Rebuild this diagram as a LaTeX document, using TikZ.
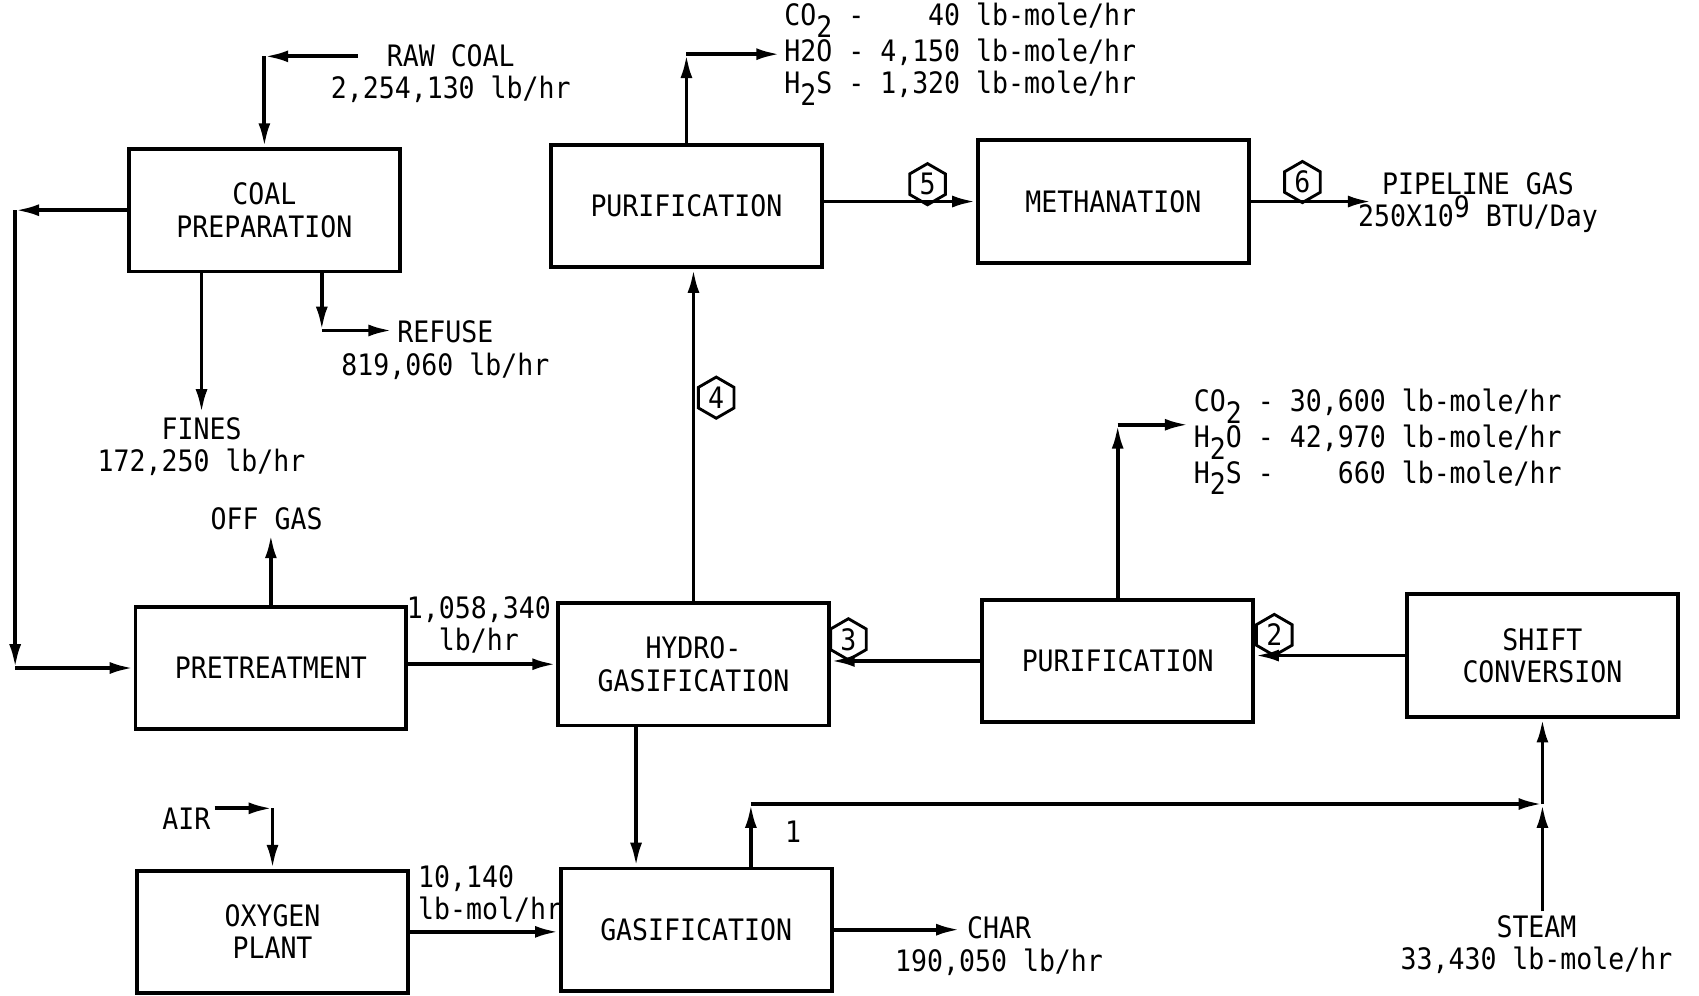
\documentclass[tikz,border=0pt]{standalone}
\usepackage{fontspec}
\setmainfont{DejaVu Sans Mono}[FakeStretch=0.9]
\usetikzlibrary{shapes.geometric, arrows.meta, positioning}
\newcommand{\lowsub}[1]{\raisebox{-0.7ex}{#1}}
\newcommand{\highsup}[1]{\raisebox{0.6ex}{#1}}

\begin{document}
\begin{tikzpicture}[x=0.02cm, y=-0.02cm, font=\fontsize{15.5}{17}\selectfont]
\tikzstyle{block} = [rectangle, minimum width=5cm, minimum height=2.26cm, text centered, align=center, draw=black, line width=2pt, inner sep=0pt]
\tikzstyle{stream} = [align=center, inner sep=2pt]
\tikzstyle{hexnum} = [regular polygon, regular polygon sides=6, shape border rotate=90, draw=black, line width=1.5pt, minimum size=0.76cm, inner sep=0pt]
\tikzstyle{arrow} = [line width=2pt, -{Latex[length=4.4mm,width=2.2mm]}]

\useasboundingbox (0,0) rectangle (1568,919);

% process blocks
\node (coalprep) [block] at (244,194) {COAL\\PREPARATION};
\node (pretreat) [block] at (250,616.5) {PRETREATMENT};
\node (hydrogas) [block] at (640,613) {HYDRO-\\GASIFICATION};
\node (purifA) [block] at (633.5,190) {PURIFICATION};
\node (methan) [block] at (1027.5,186) {METHANATION};
\node (purifB) [block] at (1031.5,610) {PURIFICATION};
\node (shift) [block] at (1423.5,605) {SHIFT\\CONVERSION};
\node (gasif) [block] at (642.5,858) {GASIFICATION};
\node (oxygen) [block] at (251.5,860) {OXYGEN\\PLANT};

% stream labels
\node (rawcoal) [stream] at (416,68) {RAW COAL\\2,254,130 lb/hr};
\node (fines) [stream] at (186,412) {FINES\\172,250 lb/hr};
\node (refuse) [stream] at (411,323) {REFUSE\\819,060 lb/hr};
\node (offgas) [stream] at (246,479) {OFF GAS};
\node (ptflow) [stream] at (442,577) {1,058,340\\lb/hr};
\node (gasA) [stream, align=left, anchor=west] at (720,50) {CO\lowsub{2} - \phantom{4,1}40 lb-mole/hr\\H2O - 4,150 lb-mole/hr\\H\lowsub{2}S - 1,320 lb-mole/hr};
\node (pipeline) [stream] at (1364,187) {PIPELINE GAS\\250X10\highsup{9} BTU/Day};
\node (gasB) [stream, align=left, anchor=west] at (1098,408) {CO\lowsub{2} - 30,600 lb-mole/hr\\H\lowsub{2}O - 42,970 lb-mole/hr\\H\lowsub{2}S - \phantom{30,}660 lb-mole/hr};
\node (char) [stream] at (922,873) {CHAR\\190,050 lb/hr};
\node (steam) [stream] at (1418,872) {STEAM\\33,430 lb-mole/hr};
\node (air) [stream] at (172,756) {AIR};
\node (oxflow) [stream, align=left, anchor=west] at (382,825) {10,140\\lb-mol/hr};
\node (one) [stream] at (732,768) {1};

% stream numbers
\node (hexB) [hexnum] at (783,590) {3};
\node (hexA) [hexnum] at (1176,586) {2};
\node (hexC) [hexnum] at (661,367) {4};
\node (hexD) [hexnum] at (856,170) {5};
\node (hexE) [hexnum] at (1202,168) {6};

% coal feed
\coordinate (rawin) at (330,52);
\coordinate (rawturn) at (244,52);
\draw [arrow] (rawin) -- (rawturn);
\draw [arrow] (rawturn) -- (coalprep.north);

\coordinate (loopTop) at (coalprep.west -| 14,0);
\coordinate (loopBot) at (pretreat.west -| 14,0);
\draw [arrow] (coalprep.west) -- (loopTop);
\draw [arrow] (loopTop) -- (loopBot);
\draw [arrow] (loopBot) -- (pretreat.west);

\draw [arrow] (coalprep.south -| fines.north) -- (fines.north);
\coordinate (refturn) at (297,305);
\coordinate (refend) at (362,305);
\draw [arrow] (coalprep.south -| refturn) -- (refturn);
\draw [arrow] (refturn) -- (refend);

\draw [arrow] (pretreat.north) -- (pretreat.north |- offgas.south);
\draw [arrow] (hydrogas.west -| pretreat.east) -- (hydrogas.west);

% gas train
\draw [arrow] (hydrogas.north) -- (hydrogas.north |- purifA.south);
\coordinate (purAturn) at (purifA.north |- gasA.west);
\draw [arrow] (purifA.north) -- (purAturn);
\draw [arrow] (purAturn) -- (gasA.west);
\draw [arrow] (methan.west -| purifA.east) -- (methan.west);
\coordinate (pipeend) at (1266,186);
\draw [arrow] (methan.east) -- (pipeend);

\coordinate (purBturn) at (purifB.north |- 0,392);
\coordinate (purBend) at (1097,392);
\draw [arrow] (purifB.north) -- (purBturn);
\draw [arrow] (purBturn) -- (purBend);
\draw [arrow] (purifB.west) -- (purifB.west -| hydrogas.east);
\draw [arrow] (shift.west) -- (shift.west -| purifB.east);

% gasifier
\coordinate (hydbot) at ([xshift=-1.06cm]hydrogas.south);
\draw [arrow] (hydbot) -- (hydbot |- gasif.north);
\coordinate (junc) at (shift.south |- 0,742);
\coordinate (gastop) at ([xshift=1.01cm]gasif.north);
\draw [arrow] (gastop) -- (gastop |- junc);
\draw [arrow] (gastop |- junc) -- (junc);
\draw [arrow] (steam.north -| junc) -- (junc);
\draw [arrow] (junc) -- (shift.south);
\coordinate (charend) at (886,858);
\draw [arrow] (gasif.east) -- (charend);

% oxygen
\coordinate (airturn) at (oxygen.north |- 0,746);
\draw [arrow] (air.east |- airturn) -- (airturn);
\draw [arrow] (airturn) -- (oxygen.north);
\draw [arrow] (oxygen.east) -- (oxygen.east -| gasif.west);
\end{tikzpicture}
\end{document}
